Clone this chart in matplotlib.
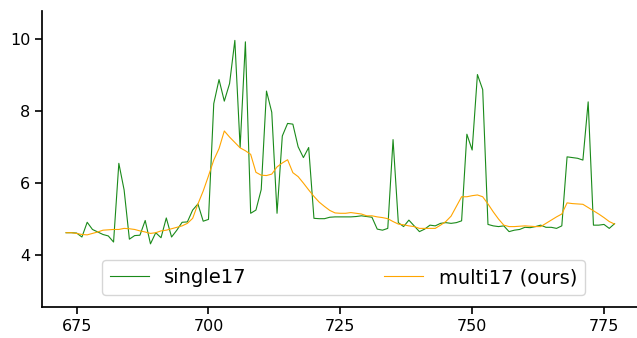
import matplotlib
matplotlib.use("Agg")
import matplotlib.pyplot as plt
import numpy as np

x_start = 673
single17 = [4.62, 4.62, 4.61, 4.50, 4.91, 4.71, 4.64, 4.57, 4.53, 4.36,
            6.55, 5.81, 4.44, 4.54, 4.55, 4.96, 4.31, 4.62, 4.48, 5.03,
            4.50, 4.69, 4.91, 4.92, 5.25, 5.42, 4.94, 4.99, 8.21, 8.88,
            8.28, 8.77, 9.97, 6.99, 9.93, 5.16, 5.25, 5.82, 8.56, 7.97,
            5.16, 7.31, 7.66, 7.64, 7.01, 6.71, 6.99, 5.02, 5.01, 5.01,
            5.05, 5.06, 5.06, 5.06, 5.06, 5.07, 5.09, 5.07, 5.05, 4.72,
            4.69, 4.74, 7.21, 4.90, 4.79, 4.97, 4.81, 4.65, 4.72, 4.83,
            4.81, 4.88, 4.90, 4.88, 4.90, 4.95, 7.36, 6.92, 9.02, 8.60,
            4.85, 4.81, 4.79, 4.81, 4.65, 4.69, 4.71, 4.77, 4.76, 4.79,
            4.83, 4.77, 4.77, 4.74, 4.81, 6.73, 6.71, 6.69, 6.64, 8.26,
            4.83, 4.83, 4.85, 4.74, 4.87]
multi17 = [4.62, 4.62, 4.60, 4.57, 4.56, 4.60, 4.64, 4.69, 4.70, 4.71,
           4.71, 4.74, 4.73, 4.71, 4.67, 4.64, 4.60, 4.62, 4.67, 4.69,
           4.73, 4.77, 4.81, 4.88, 5.02, 5.42, 5.78, 6.20, 6.64, 6.96,
           7.45, 7.28, 7.13, 6.98, 6.90, 6.80, 6.30, 6.22, 6.21, 6.25,
           6.45, 6.56, 6.65, 6.29, 6.18, 6.00, 5.81, 5.63, 5.47, 5.35,
           5.24, 5.17, 5.16, 5.16, 5.18, 5.16, 5.14, 5.09, 5.09, 5.06,
           5.04, 5.01, 4.93, 4.86, 4.84, 4.81, 4.79, 4.74, 4.74, 4.74,
           4.74, 4.83, 4.93, 5.08, 5.35, 5.62, 5.62, 5.65, 5.67, 5.62,
           5.42, 5.20, 5.00, 4.83, 4.79, 4.79, 4.80, 4.81, 4.80, 4.79,
           4.79, 4.88, 4.97, 5.06, 5.14, 5.45, 5.43, 5.42, 5.41, 5.32,
           5.23, 5.14, 5.04, 4.93, 4.86]
x = np.arange(x_start, x_start + len(single17))

labels = ["single17", "multi17 (ours)"]
xticks = [675, 700, 725, 750, 775]
yticks = [4, 6, 8, 10]

W, H = 637, 338
fig = plt.figure(figsize=(W / 100, H / 100), dpi=100)
ax = fig.add_axes([42 / W, (H - 307) / H, (637 - 42) / W, (307 - 10.7) / H])

ax.plot(x, single17, color="#1a8a1a", lw=0.8, label=labels[0])
ax.plot(x, multi17, color="orange", lw=0.8, label=labels[1])

ax.set_xlim(668.43, 781.26)
ax.set_ylim(2.553, 10.796)
ax.set_xticks(xticks)
ax.set_yticks(yticks)
ax.tick_params(labelsize=11.5, length=5, width=1.2)
for s in ["top", "right"]:
    ax.spines[s].set_visible(False)
for s in ["left", "bottom"]:
    ax.spines[s].set_linewidth(1.25)

ax.legend(ncol=2, mode="expand", loc="lower left",
          bbox_to_anchor=(102 / W, (H - 295) / H, 483 / W, 0.1),
          bbox_transform=fig.transFigure, borderaxespad=0, fontsize=14)

fig.savefig("out.png", dpi=100)
